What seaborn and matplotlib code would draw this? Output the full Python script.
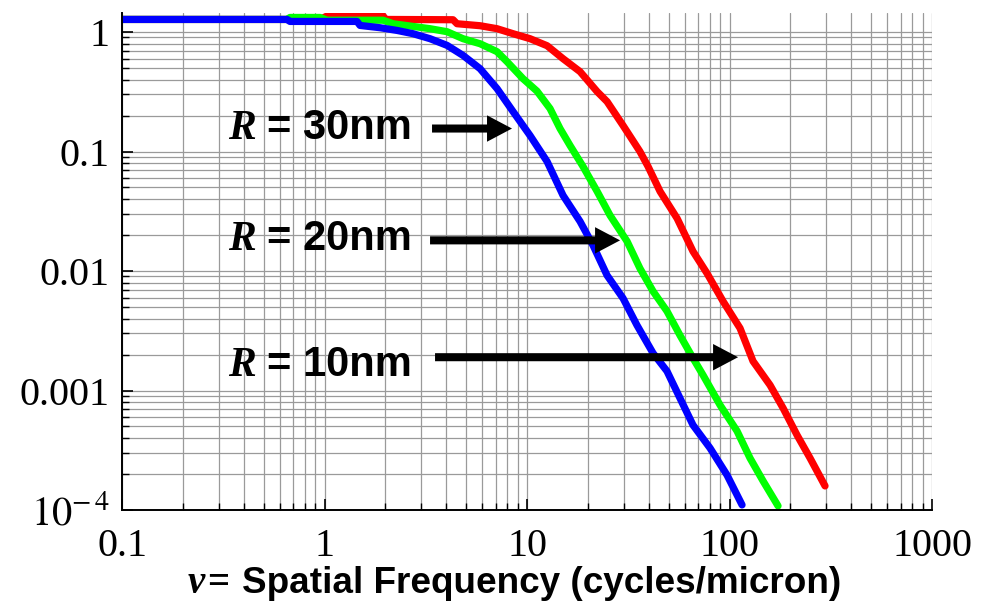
import matplotlib
matplotlib.use("Agg")
import matplotlib.pyplot as plt
import numpy as np
import pandas as pd
import seaborn as sns
from matplotlib.ticker import FixedLocator, LogLocator, NullFormatter

# Modulation transfer vs spatial frequency for three resist blur radii
freq_30nm = [0.1, 0.653, 0.675, 1.447, 1.497, 1.88, 2.28, 2.735, 3.319, 4.027,
             4.83, 5.86, 7.11, 8.53, 10.35, 12.56, 15.06, 18.27, 21.18, 24.84,
             29.8, 34.9, 41.9, 49.1, 56.9, 66.0, 80.1, 97.2, 115.3]
mtf_30nm = [1.274, 1.274, 1.226, 1.226, 1.135, 1.086, 1.031, 0.968, 0.879, 0.773,
            0.637, 0.4935, 0.336, 0.2159, 0.136, 0.0825, 0.0429, 0.026, 0.0164, 0.0092,
            0.00591, 0.00352, 0.002054, 0.001452, 0.000864, 0.000514, 0.00033, 0.000196,
            0.0001103]

freq_20nm = [0.1, 0.653, 0.675, 0.95, 1.029, 1.945, 2.179, 3.319, 4.027, 4.83,
             5.86, 7.11, 7.96, 9.55, 11.2, 12.99, 14.55, 16.31, 18.9, 22.2,
             25.7, 31.2, 36.1, 41.9, 49.1, 56.9, 66.0, 74.0, 89.8, 108.9,
             126.2, 146.4, 173.6]
mtf_20nm = [1.274, 1.274, 1.324, 1.324, 1.255, 1.255, 1.173, 1.066, 1.006, 0.879,
            0.798, 0.6845, 0.565, 0.407, 0.32, 0.2287, 0.1557, 0.1122, 0.0749, 0.0463,
            0.0292, 0.0177, 0.01053, 0.00677, 0.00461, 0.0029, 0.001866, 0.001345,
            0.000755, 0.000458, 0.000272, 0.000175, 0.0001082]

freq_10nm = [0.1, 0.95, 1.029, 1.945, 2.012, 4.31, 4.51, 5.86, 7.11, 8.53,
             10.35, 12.56, 15.06, 18.27, 22.2, 24.84, 29.8, 36.1, 39.6, 45.4,
             55.1, 66.0, 77.4, 92.9, 112.7, 130.6, 158.5, 183.8, 215.4, 249.8, 296.2]
mtf_10nm = [1.274, 1.274, 1.361, 1.361, 1.274, 1.267, 1.173, 1.129, 1.066, 0.968,
            0.879, 0.768, 0.598, 0.466, 0.317, 0.2617, 0.165, 0.1, 0.0749, 0.0463,
            0.02756, 0.0146, 0.00957, 0.00558, 0.00332, 0.00176, 0.00111, 0.000713,
            0.000424, 0.000272, 0.000159]

radii = ["10nm", "20nm", "30nm"]
colors = ["#ff0000", "#00ff00", "#0000ff"]

x_ticks = [0.1, 1, 10, 100, 1000]
x_tick_labels = ["0.1", "1", "10", "100", "1000"]
y_ticks = [1e-4, 1e-3, 1e-2, 0.1, 1]
y_tick_labels = [r"$10^{-\,4}$", "0.001", "0.01", "0.1", "1"]

# Arrow labels pointing at each curve
label_radius = ["30nm", "20nm", "10nm"]
label_right_x = [2.70, 2.70, 2.70]
label_left_x = [0.334, 0.334, 0.334]
label_base_y = [0.1284, 0.01497, 0.001311]
arrow_start_x = [3.395, 3.319, 3.513]
arrow_tip_x = [8.43, 28.8, 110.2]
arrow_y = [0.1557, 0.01805, 0.0019]

frames = []
for r, f, m in zip(radii, [freq_10nm, freq_20nm, freq_30nm], [mtf_10nm, mtf_20nm, mtf_30nm]):
    frames.append(pd.DataFrame({"freq": f, "mtf": m, "radius": r}))
df = pd.concat(frames, ignore_index=True)

sns.set_theme(style="white")
plt.rcParams["font.family"] = ["Liberation Serif", "DejaVu Serif"]
plt.rcParams["mathtext.fontset"] = "stix"
plt.rcParams["text.color"] = "black"

fig = plt.figure(figsize=(9.89, 6.06), dpi=100)
ax = fig.add_axes([0.1234, 0.1584, 0.819, 0.8206])

ax.set_xscale("log")
ax.set_yscale("log")

sns.lineplot(data=df, x="freq", y="mtf", hue="radius", hue_order=radii,
             palette=dict(zip(radii, colors)), sort=False, estimator=None,
             units="radius", legend=False, lw=5.2, ax=ax,
             solid_capstyle="round", solid_joinstyle="round")

ax.set_xlim(0.1, 1000)
ax.set_ylim(1e-4, 1.45)

ax.xaxis.set_major_locator(FixedLocator(x_ticks))
ax.set_xticklabels(x_tick_labels)
ax.yaxis.set_major_locator(FixedLocator(y_ticks))
ax.set_yticklabels(y_tick_labels)
ax.xaxis.set_minor_locator(LogLocator(base=10, subs=np.arange(2, 10), numticks=20))
ax.yaxis.set_minor_locator(LogLocator(base=10, subs=np.arange(2, 10), numticks=20))
ax.xaxis.set_minor_formatter(NullFormatter())
ax.yaxis.set_minor_formatter(NullFormatter())

ax.grid(which="both", color="#9a9a9a", lw=0.9)
ax.set_axisbelow(True)

for side in ["top", "right"]:
    ax.spines[side].set_visible(False)
for side in ["left", "bottom"]:
    ax.spines[side].set_color("black")
    ax.spines[side].set_linewidth(1.4)

ax.tick_params(which="major", direction="in", length=8, width=1.2, color="black",
               labelsize=29, labelcolor="black")
ax.tick_params(which="minor", direction="in", length=5, width=1.0, color="black")
ax.tick_params(axis="y", which="major", pad=9)
ax.tick_params(axis="x", which="major", pad=13)
ax.tick_params(left=True, bottom=True, which="both")
for lbl in ax.get_xticklabels() + ax.get_yticklabels():
    lbl.set_fontfamily("Liberation Serif")

ax.set_xlabel("")
ax.set_ylabel("")

for rad, xl, xr, yb, xs, xt, ya in zip(label_radius, label_left_x, label_right_x,
                                         label_base_y, arrow_start_x, arrow_tip_x, arrow_y):
    ax.text(xl, yb, "R", family="Liberation Serif", weight="bold", style="italic",
            fontsize=30, ha="left", va="baseline", color="black")
    ax.text(xr, yb, "= " + rad, family="Liberation Sans", weight="bold",
            fontsize=30, ha="right", va="baseline", color="black")
    ax.annotate("", xy=(xt, ya), xytext=(xs, ya),
                arrowprops=dict(arrowstyle="simple,head_length=0.9,head_width=0.95,tail_width=0.29",
                                color="black", lw=0, shrinkA=0, shrinkB=0, mutation_scale=20))

# Axis title built from pieces: Greek symbol, equals sign, description
fig.text(0.190, 0.0215, "\u03bd", family="Liberation Serif", weight="bold", style="italic",
         fontsize=28, ha="left", va="baseline", color="black")
fig.text(0.2093, 0.0215, "=", family="Liberation Serif", weight="bold",
         fontsize=28, ha="left", va="baseline", color="black")
fig.text(0.2447, 0.0215, "Spatial Frequency (cycles/micron)", family="Liberation Sans",
         weight="bold", fontsize=26.6, ha="left", va="baseline", color="black")

fig.savefig("out.png", dpi=100)
